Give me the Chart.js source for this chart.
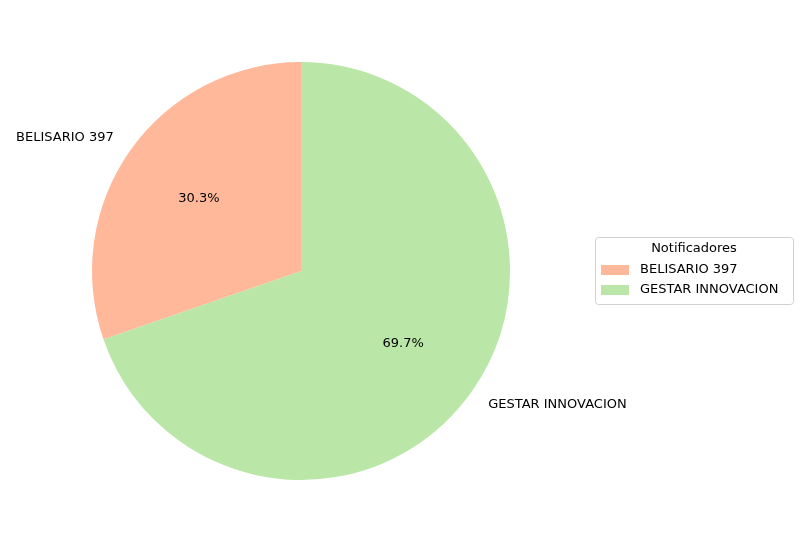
<!DOCTYPE html>
<html>
<head>
<meta charset="utf-8">
<script src="https://cdn.jsdelivr.net/npm/chart.js@4"></script>
<style>
  body { margin: 0; background: #fff; }
  #wrap { width: 802px; height: 542px; }
</style>
</head>
<body>
<div id="wrap"><canvas id="pieChart" width="802" height="542"></canvas></div>
<script>
// 数据 (clockwise from top, as matplotlib goes counterclockwise)
const categories = ['GESTAR INNOVACION', 'BELISARIO 397'];
const values = [69.7, 30.3];
const colors = ['#bae7a7', '#ffb899'];
const legendTitle = 'Notificadores';
const legendOrder = [1, 0];

const FONT = '13px "DejaVu Sans", sans-serif';

// 外部标签与百分比
const labelPlugin = {
    id: 'pieLabels',
    afterDatasetsDraw(chart) {
        const ctx = chart.ctx;
        const meta = chart.getDatasetMeta(0);
        const total = values.reduce((a, b) => a + b, 0);
        ctx.save();
        ctx.font = FONT;
        ctx.fillStyle = '#000';
        ctx.textBaseline = 'middle';
        meta.data.forEach((arc, i) => {
            const mid = (arc.startAngle + arc.endAngle) / 2;
            const r = arc.outerRadius;
            const cx = arc.x, cy = arc.y;
            const lx = cx + Math.cos(mid) * r * 1.1;
            const ly = cy + Math.sin(mid) * r * 1.1;
            ctx.textAlign = lx < cx ? 'right' : 'left';
            ctx.fillText(categories[i], lx, ly);
            ctx.textAlign = 'center';
            const pct = (values[i] / total * 100).toFixed(1) + '%';
            ctx.fillText(pct, cx + Math.cos(mid) * r * 0.6, cy + Math.sin(mid) * r * 0.6);
        });

        // 图例
        const bx = 595, by = 237, bw = 198, bh = 67;
        ctx.strokeStyle = '#d0d0d0';
        ctx.lineWidth = 1;
        ctx.fillStyle = 'rgba(255,255,255,0.8)';
        ctx.beginPath();
        ctx.roundRect(bx + 0.5, by + 0.5, bw, bh, 3);
        ctx.fill();
        ctx.stroke();
        ctx.fillStyle = '#000';
        ctx.textAlign = 'center';
        ctx.fillText(legendTitle, bx + bw / 2, by + 12);
        ctx.textAlign = 'left';
        legendOrder.forEach((idx, k) => {
            const y = by + 33 + k * 20;
            ctx.fillStyle = colors[idx];
            ctx.fillRect(bx + 6, y - 5, 28, 10);
            ctx.fillStyle = '#000';
            ctx.fillText(categories[idx], bx + 45, y);
        });
        ctx.restore();
    }
};

const chart = new Chart(document.getElementById('pieChart').getContext('2d'), {
    type: 'pie',
    data: {
        labels: categories,
        datasets: [{
            data: values,
            backgroundColor: colors,
            borderWidth: 0
        }]
    },
    options: {
        responsive: false,
        animation: false,
        layout: { padding: { left: 92, right: 292, top: 62, bottom: 62 } },
        plugins: {
            legend: { display: false },
            tooltip: { enabled: false }
        }
    },
    plugins: [labelPlugin]
});
</script>
</body>
</html>
